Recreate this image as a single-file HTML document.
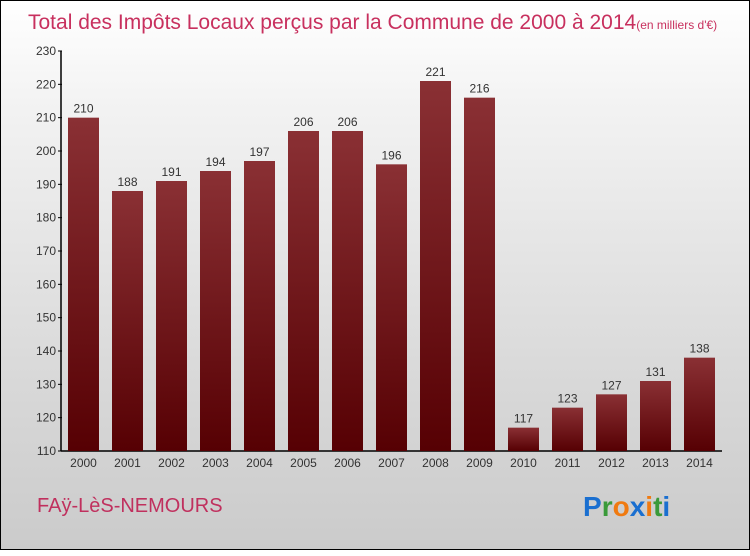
<!DOCTYPE html>
<html><head><meta charset="utf-8"><style>
body{margin:0;width:750px;height:550px;overflow:hidden}
#frame{position:absolute;left:0;top:0;width:748px;height:548px;border:1px solid #000;background:linear-gradient(#fff,#f2f2f2 20%,#d8d8d8 70%,#cbcbcb);font-family:"Liberation Sans",sans-serif}
</style></head><body>
<div id="frame">
<svg width="750" height="550">
<defs><linearGradient id="bg" x1="0" y1="0" x2="0" y2="1"><stop offset="0" stop-color="#8a3034"/><stop offset="1" stop-color="#560003"/></linearGradient></defs>
<text x="27" y="28" font-size="21" fill="#c8305e" style="font-weight:300">Total des Impôts Locaux perçus par la Commune de 2000 à 2014<tspan font-size="12">(en milliers d'€)</tspan></text>
<g id="axes"></g><g id="bars"></g>
<text x="36" y="511" font-size="20" fill="#c0305e">FAÿ-LèS-NEMOURS</text>
<text x="582" y="515" font-size="28" font-weight="bold"><tspan fill="#1a6fd0">P</tspan><tspan fill="#3a9a3a">r</tspan><tspan fill="#f07a10">o</tspan><tspan fill="#1a6fd0">x</tspan><tspan fill="#f07a10">i</tspan><tspan fill="#3a9a3a">t</tspan><tspan fill="#1a6fd0">i</tspan></text>
</svg></div>
<script>
const years=["2000","2001","2002","2003","2004","2005","2006","2007","2008","2009","2010","2011","2012","2013","2014"];
const values=[210,188,191,194,197,206,206,196,221,216,117,123,127,131,138];
const ticks=[110,120,130,140,150,160,170,180,190,200,210,220,230];
const NS="http://www.w3.org/2000/svg";
const y=v=>450-(v-110)*400/120;
const x=i=>67+i*44;
function mk(t,a,p){const e=document.createElementNS(NS,t);for(const k in a)e.setAttribute(k,a[k]);p.appendChild(e);return e;}
const ax=document.getElementById('axes'),bg=document.getElementById('bars');
const yl=mk('line',{x1:60,y1:50,x2:60,y2:450,stroke:'#000','stroke-width':1.5},ax);


const xl=mk('line',{x1:60,y1:450,x2:721,y2:450,stroke:'#000','stroke-width':1.5},ax);


ticks.forEach(t=>{
 mk('line',{x1:57,y1:y(t),x2:61,y2:y(t),stroke:'#000'},ax);
 const tx=mk('text',{x:55,y:y(t)+4,'font-size':12,fill:'#333','text-anchor':'end'},ax);tx.textContent=t;
 
 
});
values.forEach((v,i)=>{
 const r=mk('rect',{x:x(i),y:y(v),width:31,height:450-y(v),fill:'url(#bg)'},bg);
 
 
 const l=mk('text',{x:x(i)+15.5,y:y(v)-5,'font-size':12,fill:'#333','text-anchor':'middle'},bg);l.textContent=v;
 
 
 const yt=mk('text',{x:x(i)+15.5,y:466,'font-size':12,fill:'#333','text-anchor':'middle'},bg);yt.textContent=years[i];
 
 
});
</script>
</body></html>
